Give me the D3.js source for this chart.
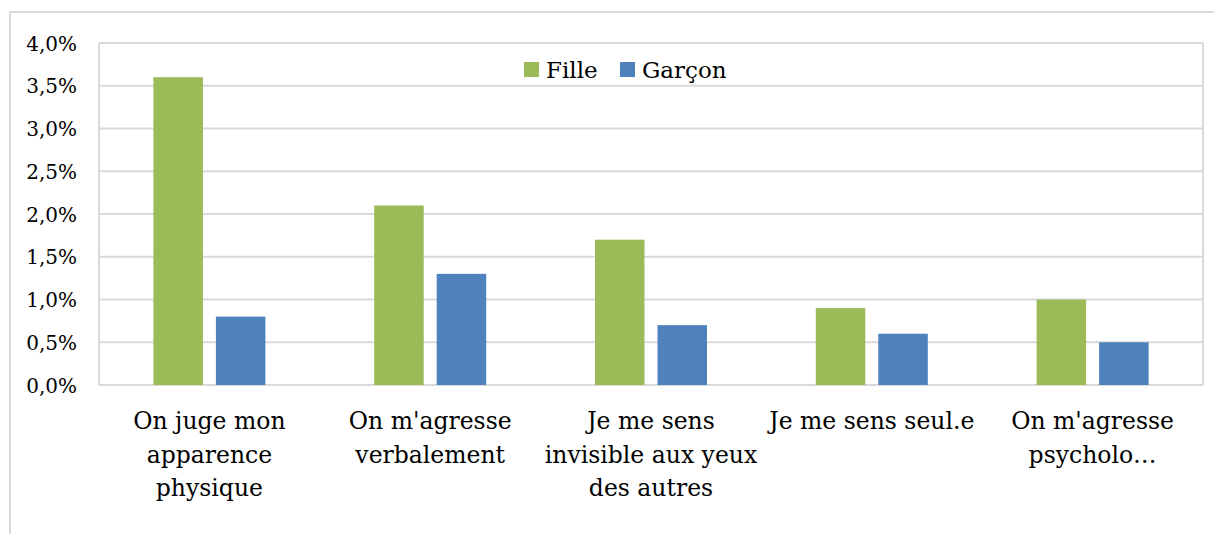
<!DOCTYPE html>
<html>
<head>
<meta charset="utf-8">
<script src="https://cdn.jsdelivr.net/npm/d3@7"></script>
<style>
  html, body { margin: 0; padding: 0; background: #fff; }
  svg { display: block; }
  text { font-family: "DejaVu Serif", serif; fill: #000; }
</style>
</head>
<body>
<svg id="chart" width="1214" height="534"></svg>
<script>
// Categories (wrapped lines for each axis label)
const categories = [
  "On juge mon apparence physique",
  "On m'agresse verbalement",
  "Je me sens invisible aux yeux des autres",
  "Je me sens seul.e",
  "On m'agresse psycholo…"
];
const categoryLines = [
  ["On juge mon", "apparence", "physique"],
  ["On m'agresse", "verbalement"],
  ["Je me sens", "invisible aux yeux", "des autres"],
  ["Je me sens seul.e"],
  ["On m'agresse", "psycholo…"]
];
const seriesNames = ["Fille", "Garçon"];
const filleValues = [3.6, 2.1, 1.7, 0.9, 1.0];
const garconValues = [0.8, 1.3, 0.7, 0.6, 0.5];
const yTicks = [0, 0.5, 1.0, 1.5, 2.0, 2.5, 3.0, 3.5, 4.0];

const colors = { "Fille": "#9BBB59", "Garçon": "#4F81BD" };
const gridColor = "#d9d9d9";

const svg = d3.select("#chart");

// Outer chart frame
svg.append("rect")
  .attr("x", 10).attr("y", 12)
  .attr("width", 1214).attr("height", 540)
  .attr("fill", "none")
  .attr("stroke", gridColor)
  .attr("stroke-width", 2);

const plot = { left: 99, right: 1203, top: 43, bottom: 385 };

const x = d3.scaleBand()
  .domain(categories)
  .range([plot.left, plot.right]);

const y = d3.scaleLinear()
  .domain([0, 4.0])
  .range([plot.bottom, plot.top]);

const fmt = v => d3.format(".1f")(v).replace(".", ",") + "%";

// Horizontal gridlines
svg.append("g")
  .selectAll("line")
  .data(yTicks)
  .join("line")
  .attr("x1", plot.left).attr("x2", plot.right)
  .attr("y1", d => y(d)).attr("y2", d => y(d))
  .attr("stroke", gridColor)
  .attr("stroke-width", 2);

// Plot-area side borders
svg.append("line")
  .attr("x1", plot.left).attr("x2", plot.left)
  .attr("y1", plot.top).attr("y2", plot.bottom)
  .attr("stroke", gridColor).attr("stroke-width", 2);
svg.append("line")
  .attr("x1", plot.right).attr("x2", plot.right)
  .attr("y1", plot.top).attr("y2", plot.bottom)
  .attr("stroke", gridColor).attr("stroke-width", 2);

// Y axis labels
const yAxis = d3.axisLeft(y).tickValues(yTicks).tickFormat(fmt).tickSize(0).tickPadding(0);
const gy = svg.append("g")
  .attr("transform", `translate(77,0)`)
  .call(yAxis);
gy.select(".domain").remove();
gy.selectAll("text")
  .attr("font-family", "DejaVu Serif")
  .attr("font-size", 20)
  .attr("fill", "#000")
  .attr("dy", "0.36em");

// Bars
const barW = 49.5, gap = 13;
const inner = d3.scaleBand()
  .domain(seriesNames)
  .range([0, barW * 2 + gap])
  .paddingInner(gap / (barW + gap));

const series = [
  { name: "Fille", values: filleValues },
  { name: "Garçon", values: garconValues }
];

series.forEach(s => {
  svg.append("g")
    .selectAll("rect")
    .data(categories.map((c, i) => ({ c, v: s.values[i] })))
    .join("rect")
    .attr("x", d => x(d.c) + x.bandwidth() / 2 - (barW * 2 + gap) / 2 + inner(s.name))
    .attr("width", inner.bandwidth())
    .attr("y", d => y(d.v))
    .attr("height", d => y(0) - y(d.v))
    .attr("fill", colors[s.name]);
});

// X axis category labels
const xl = svg.append("g");
categories.forEach((c, i) => {
  const cx = x(c) + x.bandwidth() / 2;
  const t = xl.append("text")
    .attr("x", cx)
    .attr("y", 429)
    .attr("text-anchor", "middle")
    .attr("font-size", 23.5);
  categoryLines[i].forEach((line, j) => {
    t.append("tspan")
      .attr("x", cx)
      .attr("dy", j === 0 ? 0 : 33.5)
      .text(line);
  });
});

// Legend
const legendItems = [
  { name: "Fille", sx: 524, tx: 546 },
  { name: "Garçon", sx: 620, tx: 642 }
];
const lg = svg.append("g");
legendItems.forEach(it => {
  lg.append("rect")
    .attr("x", it.sx).attr("y", 62)
    .attr("width", 15).attr("height", 15)
    .attr("fill", colors[it.name]);
  lg.append("text")
    .attr("x", it.tx).attr("y", 78)
    .attr("font-size", 23)
    .text(it.name);
});
</script>
</body>
</html>
